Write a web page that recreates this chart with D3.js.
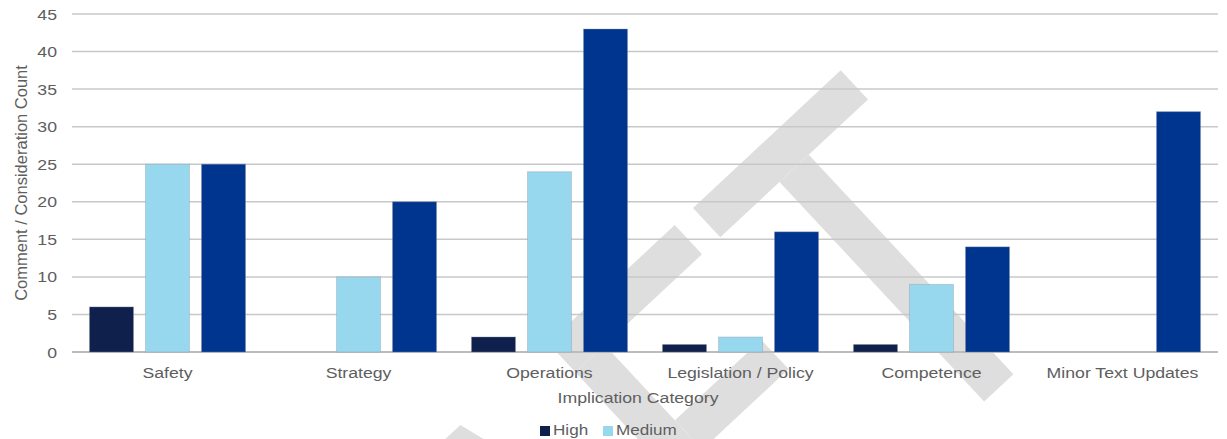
<!DOCTYPE html>
<html>
<head>
<meta charset="utf-8">
<script src="https://cdn.jsdelivr.net/npm/d3@7/dist/d3.min.js"></script>
<style>
  html, body { margin: 0; padding: 0; background: #ffffff; }
  svg { display: block; font-family: "Liberation Sans", Arial, sans-serif; }
</style>
</head>
<body>
<svg id="chart" width="1227" height="439"></svg>
<script>
// Comment / consideration counts per implication category
const categories = ["Safety", "Strategy", "Operations", "Legislation / Policy", "Competence", "Minor Text Updates"];
const seriesNames = ["High", "Medium", "Low"];
const highValues = [6, 0, 2, 1, 1, 0];
const mediumValues = [25, 10, 24, 2, 9, 0];
const lowValues = [25, 20, 43, 16, 14, 32];
const yTicks = [0, 5, 10, 15, 20, 25, 30, 35, 40, 45];
const legendNames = ["High", "Medium"];
const seriesColors = ["#10204c", "#98d8ef", "#00358f"];

const plot = { left: 72, right: 1218, top: 14, bottom: 352 };
const textColor = "#5e5e5e";
const stretch = 1.14;

const svg = d3.select("#chart");

// DRAFT watermark letters, laid out on a rotated baseline
const wm = svg.append("g")
  .attr("transform", "translate(693,208) rotate(-43)")
  .attr("fill", "#dedede");
// T
wm.append("rect").attr("x", 0).attr("y", 0).attr("width", 202).attr("height", 40);
wm.append("rect").attr("x", 81).attr("y", 40).attr("width", 40).attr("height", 300);
// F
wm.append("rect").attr("x", -198).attr("y", 0).attr("width", 173).attr("height", 40);
wm.append("rect").attr("x", -198).attr("y", 40).attr("width", 40).attr("height", 300);
wm.append("rect").attr("x", -158).attr("y", 143).attr("width", 118).attr("height", 40);
// A
wm.append("path").attr("d", "M-358,0 L-318,0 L-223,340 L-263,340 L-338,72 L-413,340 L-453,340 Z");

const series = seriesNames.map((name, i) => ({
  name,
  values: [highValues, mediumValues, lowValues][i],
  color: seriesColors[i]
}));

const x0 = d3.scaleBand()
  .domain(categories)
  .range([plot.left, plot.right])
  .paddingInner(0.183)
  .paddingOuter(0.0915);

const x1 = d3.scaleBand()
  .domain(seriesNames)
  .range([0, x0.bandwidth()])
  .paddingInner(0.214)
  .paddingOuter(0);

const y = d3.scaleLinear()
  .domain([0, 45])
  .range([plot.bottom, plot.top]);

// Horizontal gridlines
svg.append("g")
  .selectAll("line")
  .data(yTicks)
  .join("line")
  .attr("x1", plot.left)
  .attr("x2", plot.right)
  .attr("y1", d => y(d))
  .attr("y2", d => y(d))
  .attr("stroke", d => d === 0 ? "#bcbcbc" : "#c8c8c8")
  .attr("stroke-width", d => d === 0 ? 2 : 1.5);

// Bars
const groups = svg.append("g")
  .selectAll("g")
  .data(categories)
  .join("g")
  .attr("transform", d => `translate(${x0(d)},0)`);

groups.selectAll("rect")
  .data((c, ci) => series.map(s => ({ key: s.name, value: s.values[ci], color: s.color })).filter(d => d.value > 0))
  .join("rect")
  .attr("x", d => x1(d.key))
  .attr("width", x1.bandwidth())
  .attr("y", d => y(d.value))
  .attr("height", d => y(0) - y(d.value))
  .attr("fill", d => d.color)
  .attr("stroke", "#8a8f9c")
  .attr("stroke-opacity", 0.35)
  .attr("stroke-width", 1);

// Helper for horizontally stretched text
function label(parent, x, yPos, text, size, anchor) {
  return parent.append("text")
    .attr("transform", `translate(${x},${yPos}) scale(${stretch},1)`)
    .attr("text-anchor", anchor)
    .attr("font-size", size)
    .attr("fill", textColor)
    .text(text);
}

// Y tick labels
const yAxisG = svg.append("g");
yTicks.forEach(t => {
  label(yAxisG, 57, y(t) + 5.5, String(t), 15.5, "end");
});

// X category labels
const xAxisG = svg.append("g");
categories.forEach(c => {
  label(xAxisG, x0(c) + x0.bandwidth() / 2, 378, c, 15.5, "middle");
});

// Axis titles
label(svg, 638, 403, "Implication Category", 15.5, "middle");

svg.append("text")
  .attr("transform", `translate(27,${(plot.top + plot.bottom) / 2}) rotate(-90)`)
  .attr("text-anchor", "middle")
  .attr("font-size", 16.5)
  .attr("fill", textColor)
  .text("Comment / Consideration Count");

// Legend
const legendG = svg.append("g");
const legendX = [{ sx: 540, tx: 553 }, { sx: 603, tx: 616 }];
legendNames.forEach((name, i) => {
  const s = series.find(d => d.name === name);
  const p = legendX[i];
  legendG.append("rect")
    .attr("x", p.sx).attr("y", 426)
    .attr("width", 10).attr("height", 10)
    .attr("fill", s.color);
  label(legendG, p.tx, 435, s.name, 15, "start");
});
</script>
</body>
</html>
